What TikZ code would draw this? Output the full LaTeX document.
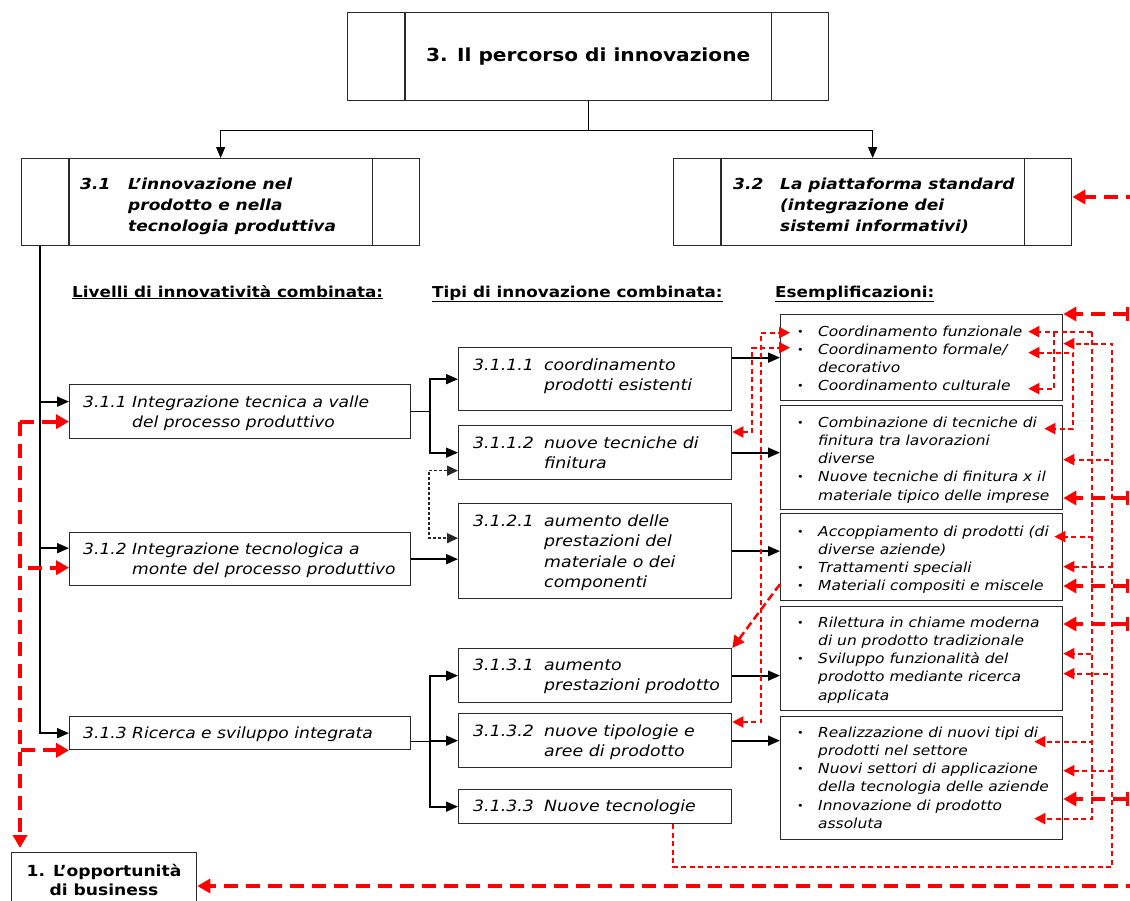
\documentclass[tikz,border=0pt]{standalone}
\usepackage{fontspec}
\setmainfont{DejaVu Sans}[FakeStretch=1.12]
\usetikzlibrary{arrows.meta,calc}

\definecolor{edge}{HTML}{2A2A2A}

\newcommand\ftitle{\bfseries\fontsize{18}{21}\selectfont}
\newcommand\fsec{\bfseries\itshape\fontsize{15.2}{21}\selectfont}
\newcommand\fhdr{\bfseries\fontsize{15}{17}\selectfont}
\newcommand\flev{\itshape\fontsize{15.3}{20}\selectfont}
\newcommand\ftyp{\itshape\fontsize{15.5}{20.5}\selectfont}
\newcommand\fex{\itshape\fontsize{13.8}{18.3}\selectfont}
\newcommand\itm{\makebox[21pt][l]{\upshape\fontsize{10}{10}\selectfont\raisebox{1pt}{•}}}
\newcommand\cnt{\hspace*{21pt}}
\newcommand\rows[1]{\begin{tabular}[t]{@{}l@{}}#1\end{tabular}}

\tikzset{
  box/.style={draw=edge, line width=1.3pt, inner sep=0pt, anchor=north west},
  bar/.style={draw=edge, line width=1.3pt},
  lbl/.style={anchor=base west, inner sep=0pt, text=black},
  blk/.style={line width=1.1pt, black},
  blkarr/.style={line width=1.8pt, black, -{Triangle[length=12pt,width=10pt]}},
  blkdash/.style={line width=1.5pt, black!85, dash pattern=on 3pt off 2pt,
    {Triangle[length=11pt,width=10pt]}-{Triangle[length=11pt,width=10pt]}},
  reddot/.style={red, line width=2pt, dash pattern=on 5pt off 3.5pt,
    >={Triangle[length=11pt,width=11pt]}},
  reddash/.style={red, line width=2.5pt, dash pattern=on 8pt off 4pt,
    >={Triangle[length=12pt,width=12pt]}},
  redthick/.style={red, line width=4pt, dash pattern=on 14pt off 8pt,
    >={Triangle[length=13pt,width=14pt]}},
  redtick/.style={redthick, {Bar[width=14pt,line width=3pt]}->},
}

\begin{document}
\begin{tikzpicture}[x=1pt,y=-1pt]
\useasboundingbox (0,0) rectangle (1130,900);
\clip (0,0) rectangle (1130,900);

% ---------- main boxes ----------
\node[box, minimum width=481pt, minimum height=88pt] (topbox) at (347,12) {};
\draw[bar] ($(topbox.north west)+(58,0)$) -- ($(topbox.south west)+(58,0)$);
\draw[bar] ($(topbox.north east)+(-58,0)$) -- ($(topbox.south east)+(-58,0)$);
\node[font=\ftitle] (ttitle) at (topbox.center) {3. Il percorso di innovazione};

\node[box, minimum width=398pt, minimum height=87pt] (b31) at (21,158) {};
\draw[bar] ($(b31.north west)+(48,0)$) -- ($(b31.south west)+(48,0)$);
\draw[bar] ($(b31.north east)+(-48,0)$) -- ($(b31.south east)+(-48,0)$);
\node[lbl, font=\fsec] (t31) at (80,189)
  {\rows{\makebox[48pt][l]{3.1}L’innovazione nel\\ \hspace*{48pt}prodotto e nella\\ \hspace*{48pt}tecnologia produttiva}};

\node[box, minimum width=398pt, minimum height=87pt] (b32) at (673,158) {};
\draw[bar] ($(b32.north west)+(48,0)$) -- ($(b32.south west)+(48,0)$);
\draw[bar] ($(b32.north east)+(-48,0)$) -- ($(b32.south east)+(-48,0)$);
\node[lbl, font=\fsec] (t32) at (733,189)
  {\rows{\makebox[47pt][l]{3.2}La piattaforma standard\\ \hspace*{47pt}(integrazione dei\\ \hspace*{47pt}sistemi informativi)}};

% ---------- column headers ----------
\node[lbl, font=\fhdr] (h1) at (72,297) {\underline{Livelli di innovatività combinata:}};
\node[lbl, font=\fhdr] (h2) at (432,297) {\underline{Tipi di innovazione combinata:}};
\node[lbl, font=\fhdr] (h3) at (775,297) {\underline{Esemplificazioni:}};

% ---------- levels ----------
\node[box, minimum width=341pt, minimum height=54pt] (b311) at (69,384) {};
\node[lbl, font=\flev] (t311) at (83,407)
  {\rows{\makebox[49pt][l]{3.1.1}Integrazione tecnica a valle\\ \hspace*{49pt}del processo produttivo}};
\node[box, minimum width=341pt, minimum height=53pt] (b312) at (69,532) {};
\node[lbl, font=\flev] (t312) at (83,554)
  {\rows{\makebox[49pt][l]{3.1.2}Integrazione tecnologica a\\ \hspace*{49pt}monte del processo produttivo}};
\node[box, minimum width=341pt, minimum height=33pt] (b313) at (69,716) {};
\node[lbl, font=\flev] (t313) at (83,738)
  {\makebox[49pt][l]{3.1.3}Ricerca e sviluppo integrata};

% ---------- types ----------
\node[box, minimum width=273pt, minimum height=63pt] (b3111) at (458,347) {};
\node[lbl, font=\ftyp] (t3111) at (473,370)
  {\rows{\makebox[71pt][l]{3.1.1.1}coordinamento\\ \hspace*{71pt}prodotti esistenti}};
\node[box, minimum width=273pt, minimum height=54pt] (b3112) at (458,425) {};
\node[lbl, font=\ftyp] (t3112) at (473,448)
  {\rows{\makebox[71pt][l]{3.1.1.2}nuove tecniche di\\ \hspace*{71pt}finitura}};
\node[box, minimum width=273pt, minimum height=95pt] (b3121) at (458,503) {};
\node[lbl, font=\ftyp] (t3121) at (473,526)
  {\rows{\makebox[71pt][l]{3.1.2.1}aumento delle\\ \hspace*{71pt}prestazioni del\\ \hspace*{71pt}materiale o dei\\ \hspace*{71pt}componenti}};
\node[box, minimum width=273pt, minimum height=54pt] (b3131) at (458,648) {};
\node[lbl, font=\ftyp] (t3131) at (473,670)
  {\rows{\makebox[71pt][l]{3.1.3.1}aumento\\ \hspace*{71pt}prestazioni prodotto}};
\node[box, minimum width=273pt, minimum height=54pt] (b3132) at (458,713) {};
\node[lbl, font=\ftyp] (t3132) at (473,736)
  {\rows{\makebox[71pt][l]{3.1.3.2}nuove tipologie e\\ \hspace*{71pt}aree di prodotto}};
\node[box, minimum width=273pt, minimum height=34pt] (b3133) at (458,789) {};
\node[lbl, font=\ftyp] (t3133) at (473,811)
  {\makebox[71pt][l]{3.1.3.3}Nuove tecnologie};

% ---------- examples ----------
\node[box, minimum width=282pt, minimum height=86pt] (rb1) at (780,314) {};
\node[lbl, font=\fex] (tr1) at (797,336)
  {\rows{\itm Coordinamento funzionale\\ \itm Coordinamento formale/\\ \cnt decorativo\\ \itm Coordinamento culturale}};
\node[box, minimum width=282pt, minimum height=104pt] (rb2) at (780,405) {};
\node[lbl, font=\fex] (tr2) at (797,427)
  {\rows{\itm Combinazione di tecniche di\\ \cnt finitura tra lavorazioni\\ \cnt diverse\\ \itm Nuove tecniche di finitura x il\\ \cnt materiale tipico delle imprese}};
\node[box, minimum width=282pt, minimum height=87pt] (rb3) at (780,513) {};
\node[lbl, font=\fex] (tr3) at (797,536)
  {\rows{\itm Accoppiamento di prodotti (di\\ \cnt diverse aziende)\\ \itm Trattamenti speciali\\ \itm Materiali compositi e miscele}};
\node[box, minimum width=282pt, minimum height=104pt] (rb4) at (780,606) {};
\node[lbl, font=\fex] (tr4) at (797,627)
  {\rows{\itm Rilettura in chiame moderna\\ \cnt di un prodotto tradizionale\\ \itm Sviluppo funzionalità del\\ \cnt prodotto mediante ricerca\\ \cnt applicata}};
\node[box, minimum width=282pt, minimum height=123pt] (rb5) at (780,716) {};
\node[lbl, font=\fex] (tr5) at (797,737)
  {\rows{\itm Realizzazione di nuovi tipi di\\ \cnt prodotti nel settore\\ \itm Nuovi settori di applicazione\\ \cnt della tecnologia delle aziende\\ \itm Innovazione di prodotto\\ \cnt assoluta}};

% ---------- business opportunity ----------
\node[box, minimum width=185pt, minimum height=68pt] (b1) at (11,852) {};
\node[anchor=base, inner sep=0pt, font=\bfseries\fontsize{15.3}{19}\selectfont] (t1) at (104,876)
  {\begin{tabular}[t]{@{}c@{}}1. L’opportunità\\di business\end{tabular}};

% ---------- black tree ----------
\draw[blk] (topbox.south) -- ++(0,29) coordinate (tj);
\draw[blk, -{Triangle[length=11pt,width=9pt]}] (tj) -| (b31.north);
\draw[blk, -{Triangle[length=11pt,width=9pt]}] (tj) -| (b32.north);

\coordinate (lbus) at ($(b31.south west)+(19,0)$);
\draw[blkarr] (lbus) |- ($(b311.west)+(0,-10)$);
\draw[blkarr] (lbus) |- ($(b312.west)+(0,-11)$);
\draw[blkarr] (lbus) |- (b313.west);

\draw[blk] (b311.east) -- ++(19,0) coordinate (j1);
\draw[blkarr] (j1) |- (b3111.west);
\draw[blkarr] (j1) |- (b3112.west);
\draw[blkdash] ($(b3112.west)+(0,18)$) -- ++(-29,0) |- ($(b3121.west)+(0,-13)$);
\draw[blkarr] (b312.east) -- (b312.east -| b3121.west);

\draw[blk] ($(b313.east)+(0,8)$) -- ++(19,0) coordinate (j3);
\draw[blkarr] (j3) |- (b3131.west);
\draw[blkarr] (j3) |- (b3132.west);
\draw[blkarr] (j3) |- (b3133.west);

\draw[blkarr] (b3111.east |- rb1.west) -- (rb1.west);
\draw[blkarr] (b3112.east) -- (b3112.east -| rb2.west);
\draw[blkarr] (b3121.east) -- (b3121.east -| rb3.west);
\draw[blkarr] (b3131.east) -- (b3131.east -| rb4.west);
\draw[blkarr] (b3132.east) -- (b3132.east -| rb5.west);

% ---------- red links, left side ----------
\coordinate (rl) at ($(b311.west)+(-49,10)$);
\draw[redthick, ->] (rl) -- ($(b311.west)+(0,10)$);
\draw[redthick, ->] (rl) |- ($(b312.west)+(0,8.5)$);
\draw[redthick, ->] (rl) |- (b313.south west);
\draw[redthick, ->, shorten >=4pt] (rl) -- (rl |- b1.north);

\draw[reddot, <->] ($(b3132.north east)+(0,9)$) -- ++(29,0) |- ($(rb1.west)+(10,-25)$);
\draw[reddot, <->] ($(b3112.north east)+(0,7)$) -- ++(20,0) |- ($(rb1.west)+(10,-10)$);
\draw[reddash, ->] ($(rb3.west)+(0,27)$) -- (b3131.north east);

% ---------- red links, right side ----------
\draw[reddot, ->] ($(rb1.east)+(-9,-26)$) |- ($(rb1.east)+(-35,31)$);
\draw[reddot, <->] ($(rb1.east)+(-35,-5)$) -- ($(rb1.east)+(10,-5)$) |- ($(rb2.east)+(-19,-29)$);

\coordinate (n1) at ($(rb1.east)+(29,-26)$);
\draw[reddot, ->] (n1) -- ($(rb1.east)+(-35,-26)$);
\draw[reddot, ->] (n1) |- ($(rb3.east)+(-9,-20.5)$);
\draw[reddot, ->] (n1) |- ($(rb4.east)+(0,-5)$);
\draw[reddot, ->] (n1) |- ($(rb5.east)+(-29,-36.5)$);
\draw[reddot, ->] (n1) |- ($(rb5.east)+(-29,40.5)$);

\coordinate (s3) at ($(b3133.south east)+(-59,0)$);
\coordinate (n2) at ($(b3133.south east)+(380,43)$);
\draw[reddot, ->] (s3) |- (n2) |- ($(rb1.east)+(0,-14)$);
\draw[reddot, ->] (s3) |- (n2) |- ($(rb2.east)+(0,2)$);
\draw[reddot, ->] (s3) |- (n2) |- ($(rb3.east)+(0,9.5)$);
\draw[reddot, ->] (s3) |- (n2) |- ($(rb4.east)+(0,15)$);
\draw[reddot, ->] (s3) |- (n2) |- ($(rb5.east)+(0,-7.5)$);

% ---------- incoming links from the right ----------
\coordinate (e0) at (1140,197);
\coordinate (e1) at (1129,314);
\coordinate (e2) at (1129,498);
\coordinate (e3) at (1129,586);
\coordinate (e4) at (1129,624);
\coordinate (e5) at (1129,799);
\coordinate (e6) at (1140,886);
\draw[redthick, ->] (e0) -- (e0 -| b32.east);
\draw[redtick] (e1) -- (rb1.north east);
\draw[redtick] (e2) -- (e2 -| rb2.east);
\draw[redtick] (e3) -- (e3 -| rb3.east);
\draw[redtick] (e4) -- (e4 -| rb4.east);
\draw[redtick] (e5) -- (e5 -| rb5.east);
\draw[redthick, ->] (e6) -- (e6 -| b1.east);
\end{tikzpicture}
\end{document}
